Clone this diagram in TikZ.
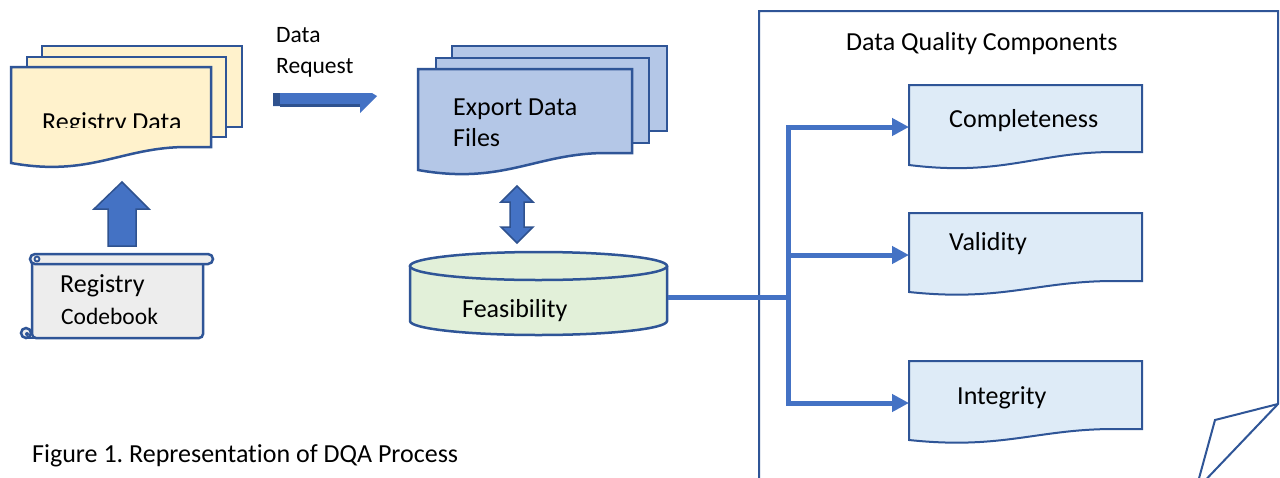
\documentclass[tikz,border=0pt]{standalone}
\usepackage{fontspec}
\setmainfont{Carlito}[Ligatures=NoCommon]
\usetikzlibrary{arrows.meta}
\frenchspacing

\definecolor{edgeblue}{HTML}{2F5597}
\definecolor{arrowblue}{HTML}{4472C4}
\definecolor{arrowdark}{HTML}{2F528F}
\definecolor{paleyellow}{HTML}{FFF2CC}
\definecolor{exportblue}{HTML}{B4C7E7}
\definecolor{palegreen}{HTML}{E2F0D9}
\definecolor{paleblue}{HTML}{DEEBF7}
\definecolor{palegray}{HTML}{EDEDED}

% document shape: top-left x, top y, right x, right-bottom y, left-bottom y
\newcommand{\docshape}[6][]{%
  \pgfmathsetmacro\dsw{#4-#2}%
  \pgfmathsetmacro\dsd{#6-#5}%
  \filldraw[#1] (#2,#3) -- (#4,#3) -- (#4,#5) -- ({#2+0.88*\dsw},#5)
    .. controls ({#2+0.55*\dsw},#5) and ({#2+0.4*\dsw},{#6+0.9*\dsd}) .. (#2,#6) -- cycle;}

\tikzset{
  sheet/.style={draw=edgeblue, line width=2.5pt, line join=miter},
  label/.style={inner sep=0pt, anchor=base west, font=\fontsize{26}{31}\selectfont},
  smalllabel/.style={inner sep=0pt, anchor=base west, font=\fontsize{23.5}{28}\selectfont},
  blockarrow/.style={fill=arrowblue, draw=arrowdark, line width=1.5pt, line join=miter},
  conn/.style={draw=arrowblue, line width=5pt, line join=miter},
  tip/.style={-{Triangle[length=17pt,width=17pt]}},
}

\begin{document}
\begin{tikzpicture}[x=1pt, y=-1pt]
\useasboundingbox (0,0) rectangle (1280,477);
\fill[white] (0,0) rectangle (1280,477);

% ---------- Registry Data stack ----------
\filldraw[sheet, fill=paleyellow] (42,46) rectangle (242,127);
\filldraw[sheet, fill=paleyellow] (27,57) rectangle (226,137);
\docshape[sheet, fill=paleyellow]{11}{67}{211}{147}{163}
\begin{scope}
  \clip (11,67) rectangle (211,127);
  \node[label] (regdata) at (42,130) {Registry Data};
\end{scope}

% ---------- upward block arrow ----------
\filldraw[blockarrow] (122,182) -- (149,209) -- (136,209) -- (136,246)
  -- (108,246) -- (108,209) -- (94,209) -- cycle;

% ---------- Registry Codebook scroll ----------
\filldraw[sheet, fill=palegray, rounded corners=4pt]
  (32,262) -- (32,338) -- (203,338) -- (203,262);
\filldraw[sheet, fill=palegray] (26,333) circle (5);
\fill[edgeblue] (27,334) circle (2);
\draw[sheet] (26,338) -- (40,338);
\filldraw[sheet, fill=palegray, rounded corners=5pt] (30,254) rectangle (213,264);
\draw[sheet, line width=1.8pt] (37,259) circle (2.5);
\node[label] (codebook1) at (60,292) {Registry};
\node[smalllabel] (codebook2) at (61,324) {Codebook};

% ---------- Data Request ----------
\node[smalllabel] (req1) at (276,42) {Data};
\node[smalllabel] (req2) at (276,73) {Request};
\fill[arrowblue] (273,93) -- (372,93) -- (377,96) -- (360,113) -- (360,106) -- (273,106) -- cycle;
\fill[arrowdark] (273,93) rectangle (280,106);
\fill[arrowdark] (280,104) rectangle (360,106.5);

% ---------- Export Data Files stack ----------
\filldraw[sheet, fill=exportblue] (452,46) rectangle (667,131);
\filldraw[sheet, fill=exportblue] (436,58) rectangle (649,143);
\docshape[sheet, fill=exportblue]{418}{69}{632}{153}{170}
\node[label] (export1) at (453,115) {Export Data};
\node[label] (export2) at (453,146) {Files};

% ---------- double block arrow ----------
\filldraw[blockarrow] (517,186) -- (533,202) -- (524,202) -- (524,227) -- (533,227)
  -- (517,243) -- (501,227) -- (510,227) -- (510,202) -- (501,202) -- cycle;

% ---------- Feasibility cylinder ----------
\filldraw[sheet, fill=palegreen] (410,266) -- (410,321)
  .. controls (410,328.7) and (467.5,335) .. (538.5,335)
  .. controls (609.5,335) and (667,328.7) .. (667,321) -- (667,266);
\filldraw[sheet, fill=palegreen] (538.5,266) ellipse [x radius=128.5, y radius=14];
\node[label] (feas) at (462,317) {Feasibility};
\coordinate (feasE) at (668,297);

% ---------- Data Quality Components page ----------
\filldraw[draw=edgeblue, line width=2pt, fill=white, line join=miter]
  (759,490) -- (759,11) -- (1278,11) -- (1278,404) -- (1196,490);
\draw[draw=edgeblue, line width=2pt, line join=miter]
  (1278,404) -- (1215,420) -- (1198,482);
\node[label] (dqc) at (846,50) {Data Quality Components};

\docshape[sheet, line width=2pt, fill=paleblue]{909}{85}{1142}{152}{165}
\docshape[sheet, line width=2pt, fill=paleblue]{909}{213}{1142}{281}{292}
\docshape[sheet, line width=2pt, fill=paleblue]{909}{361}{1142}{429}{440}
\node[label] (comp) at (949,127) {Completeness};
\node[label] (valid) at (949,250) {Validity};
\node[label] (integ) at (957,404) {Integrity};
\coordinate (compIn) at (909,127);
\coordinate (validIn) at (909,255);
\coordinate (integIn) at (909,403);

% ---------- connectors ----------
\coordinate (jn) at (788,297);
\draw[conn] (feasE) -- (jn);
\draw[conn, tip] (jn) |- (compIn);
\draw[conn, tip] (jn) |- (validIn);
\draw[conn, tip] (jn) |- (integIn);

% ---------- caption ----------
\node[label] (caption) at (32,462) {Figure 1. Representation of DQA Process};
\end{tikzpicture}
\end{document}
